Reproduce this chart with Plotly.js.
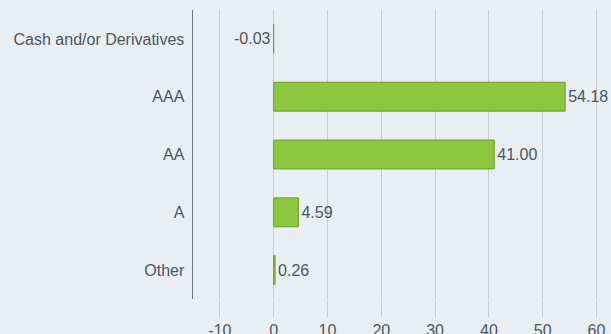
<!DOCTYPE html>
<html>
<head>
<meta charset="utf-8">
<script src="https://cdn.plot.ly/plotly-3.0.1.min.js"></script>
<style>
  html, body { margin: 0; padding: 0; background: #e9eef2; }
  #chart { width: 611px; height: 334px; }
</style>
</head>
<body>
<div id="chart"></div>
<script>
// Credit quality breakdown (% of portfolio)
const categories = ["Cash and/or Derivatives", "AAA", "AA", "A", "Other"];
const weights = [-0.03, 54.18, 41.00, 4.59, 0.26];
const xTicks = [-10, 0, 10, 20, 30, 40, 50, 60];

const textColor = "#4b5661";
const gridColor = "#c9cdd1";
const fontFamily = "Liberation Sans, Arial, sans-serif";

const trace = {
  type: "bar",
  orientation: "h",
  y: categories,
  x: weights,
  marker: { color: "#8dc63f", line: { color: "#6e9d2c", width: 1 } },
  text: weights.map(v => v.toFixed(2)),
  textposition: "outside",
  cliponaxis: false,
  textfont: { family: fontFamily, size: 16, color: textColor },
  hoverinfo: "skip"
};

const layout = {
  width: 611,
  height: 334,
  margin: { l: 193, r: 0, t: 10, b: 35 },
  paper_bgcolor: "#e9eef2",
  plot_bgcolor: "#e9eef2",
  showlegend: false,
  bargap: 0.5,
  font: { family: fontFamily, size: 16, color: textColor },
  xaxis: {
    range: [-15, 62.7],
    tickvals: xTicks,
    ticktext: xTicks.map(String),
    showgrid: true,
    gridcolor: gridColor,
    gridwidth: 1,
    zeroline: false,
    ticks: "outside",
    ticklen: 17,
    tickcolor: gridColor,
    tickfont: { family: fontFamily, size: 16, color: textColor },
    showline: false,
    fixedrange: true
  },
  yaxis: {
    categoryorder: "array",
    categoryarray: categories,
    autorange: "reversed",
    showline: true,
    linecolor: "#6c7780",
    linewidth: 1.5,
    showgrid: false,
    zeroline: false,
    ticks: "",
    ticklabelstandoff: 4,
    tickfont: { family: fontFamily, size: 16, color: textColor },
    fixedrange: true
  }
};

Plotly.newPlot("chart", [trace], layout, { displayModeBar: false, staticPlot: true });
</script>
</body>
</html>
